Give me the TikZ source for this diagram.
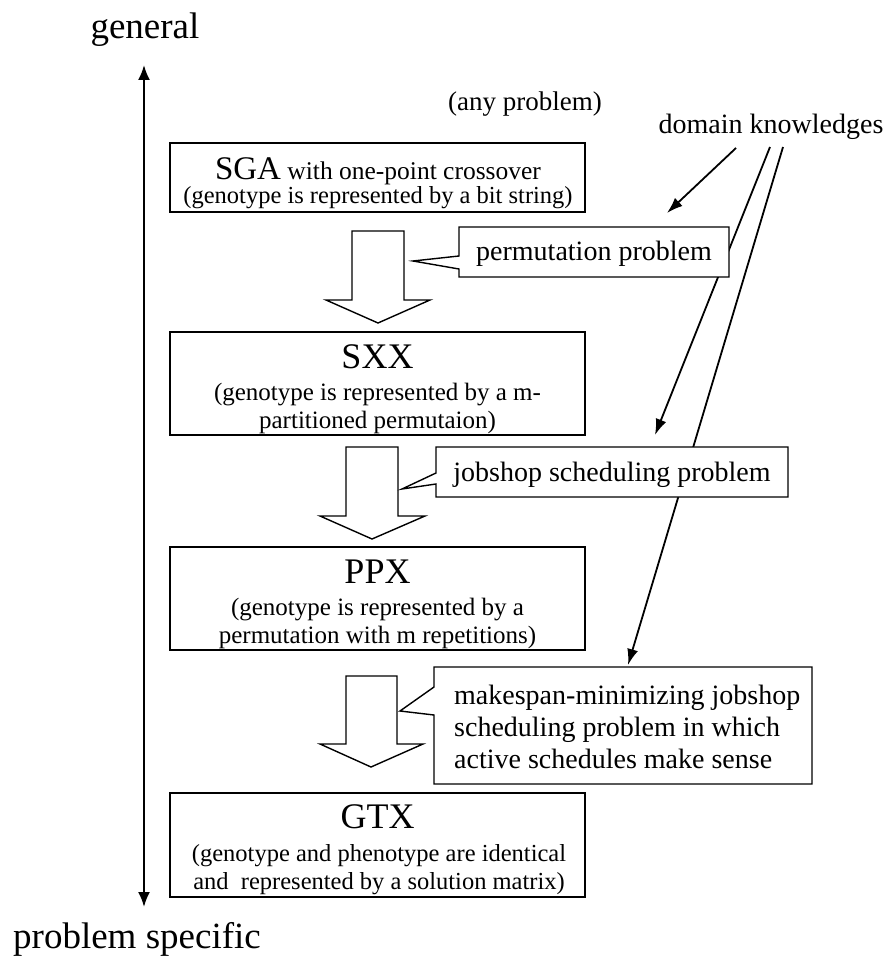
\documentclass[tikz,border=0pt]{standalone}
\usepackage{fontspec}
\setmainfont{Liberation Serif}
\usetikzlibrary{arrows.meta}
\tikzset{
  boxstyle/.style={draw, line width=1.4pt, minimum width=415pt, inner sep=0pt},
  lbl/.style={inner sep=0pt, anchor=base},
  lblw/.style={inner sep=0pt, anchor=base west},
  blockarrow/.style={draw, fill=white, line width=1.4pt, line join=miter},
  callout/.style={draw, fill=white, line width=1.4pt, line join=miter},
  dkarrow/.style={line width=1.8pt, -{Latex[length=16pt,width=11pt]}},
  axisarrow/.style={line width=2pt, {Latex[length=15pt,width=12pt]}-{Latex[length=15pt,width=12pt]}},
  big/.style={font=\fontsize{37}{42}\selectfont},
  title/.style={font=\fontsize{36}{40}\selectfont},
  sub/.style={font=\fontsize{25}{28}\selectfont},
  mid/.style={font=\fontsize{28}{32}\selectfont},
}
\begin{document}
\begin{tikzpicture}[x=1pt,y=-1pt]
\useasboundingbox (0,0) rectangle (888,957);

% axis
\node[lbl, big] (gen) at (145,39) {general};
\node[lbl, big] (spec) at (137,948) {problem specific};
\coordinate (axtop) at (144,65);
\coordinate (axbot) at (144,907);
\draw[axisarrow] (axtop) -- (axbot);

% labels at top
\node[lbl, font=\fontsize{27}{31}\selectfont] (any) at (525,111) {(any problem)};
\node[lbl, mid] (dk) at (771,134) {domain knowledges};

% boxes
\node[boxstyle, minimum height=69pt] (sga) at (377.5,177.5) {};
\node[boxstyle, minimum height=103pt] (sxx) at (377.5,383.5) {};
\node[boxstyle, minimum height=103pt] (ppx) at (377.5,598.5) {};
\node[boxstyle, minimum height=104pt] (gtx) at (377.5,845) {};

% box texts
\node[lbl] (sgat) at (378,180) {{\fontsize{33}{36}\selectfont SGA}{\fontsize{25.5}{30}\selectfont\ with one-point crossover}};
\node[lbl, font=\fontsize{24.5}{28}\selectfont] (sgas) at (378,204) {(genotype is represented by a bit string)};

\node[lbl, title] (sxxt) at (377.5,368) {SXX};
\node[lbl, sub] (sxxa) at (377.5,400) {(genotype is represented by a m-};
\node[lbl, sub] (sxxb) at (377.5,428) {partitioned permutaion)};

\node[lbl, title] (ppxt) at (377.5,583) {PPX};
\node[lbl, sub] (ppxa) at (377.5,615) {(genotype is represented by a};
\node[lbl, sub] (ppxb) at (377.5,643) {permutation with m repetitions)};

\node[lbl, title] (gtxt) at (377.5,828) {GTX};
\node[lbl, font=\fontsize{24.5}{28}\selectfont] (gtxa) at (379,861) {(genotype and phenotype are identical};
\node[lbl, font=\fontsize{24.5}{28}\selectfont] (gtxb) at (379,889) {and\ \ represented by a solution matrix)};

% block arrows
\draw[blockarrow] (352,231) -- (404,231) -- (404,300) -- (430,300) -- (378,323) -- (326,300) -- (352,300) -- cycle;
\draw[blockarrow] (346,447) -- (398,447) -- (398,516) -- (425,516) -- (372,539) -- (320,516) -- (346,516) -- cycle;
\draw[blockarrow] (346,676) -- (397,676) -- (397,744) -- (423,744) -- (371,767) -- (320,744) -- (346,744) -- cycle;

% domain knowledge arrows
\coordinate (d1s) at (736,148);
\coordinate (d2s) at (770,147);
\coordinate (d3s) at (783,147);
\coordinate (d1e) at (667,213);
\coordinate (d2e) at (655,435);
\coordinate (d3e) at (628,665);
\draw[dkarrow] (d1s) -- (d1e);
\draw[dkarrow] (d2s) -- (d2e);
\draw[dkarrow] (d3s) -- (d3e);

% callouts
\draw[callout] (459,227) -- (729,227) -- (729,277) -- (459,277) -- (459,269) -- (413,261) -- (459,256) -- cycle;
\node[lbl, mid] (c1) at (594,261) {permutation problem};

\draw[callout] (436,447) -- (788,447) -- (788,497) -- (436,497) -- (436,484) -- (402,489) -- (436,473) -- cycle;
\node[lbl, mid] (c2) at (612,481) {jobshop scheduling problem};

\draw[callout] (434,667) -- (812,667) -- (812,784) -- (434,784) -- (434,715) -- (400,711) -- (434,687) -- cycle;
\node[lblw, mid] (c3a) at (454,704) {makespan-minimizing jobshop};
\node[lblw, mid] (c3b) at (454,736) {scheduling problem in which};
\node[lblw, mid] (c3c) at (454,768) {active schedules make sense};
\end{tikzpicture}
\end{document}
